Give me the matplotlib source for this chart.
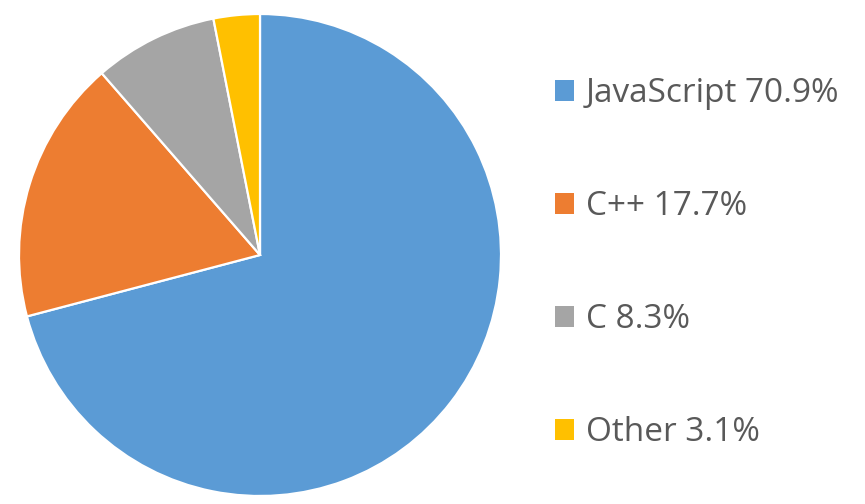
import matplotlib.pyplot as plt

languages = ['JavaScript', 'C++', 'C', 'Other']
shares = [70.9, 17.7, 8.3, 3.1]
colors = ['#5B9BD5', '#ED7D31', '#A5A5A5', '#FFC000']

W, H = 865, 504
fig = plt.figure(figsize=(W / 100, H / 100), dpi=100)

# pie centre (260, 255) px from top-left, radius ~241 px
cx, cy, r = 260, 255, 241
ax = fig.add_axes([(cx - r) / W, (H - cy - r) / H, 2 * r / W, 2 * r / H])
wedges, _ = ax.pie(shares, colors=colors, startangle=90, counterclock=False,
                   radius=1, wedgeprops=dict(edgecolor='white', linewidth=1.6))
ax.set_xlim(-1, 1)
ax.set_ylim(-1, 1)
ax.set_aspect('equal')
ax.axis('off')

labels = [f'{n} {v}%' for n, v in zip(languages, shares)]
leg = fig.legend(wedges, labels, loc='upper left', bbox_to_anchor=(542 / W, 1 - 64 / H),
                 frameon=False, prop={'family': ['Open Sans', 'DejaVu Sans'], 'size': 24},
                 handlelength=0.57, handleheight=0.57, handletextpad=0.35,
                 labelspacing=2.4, borderaxespad=0)
for t in leg.get_texts():
    t.set_color('#595959')
for h in leg.legend_handles:
    h.set_edgecolor('none')

fig.savefig('out.png', dpi=100)
